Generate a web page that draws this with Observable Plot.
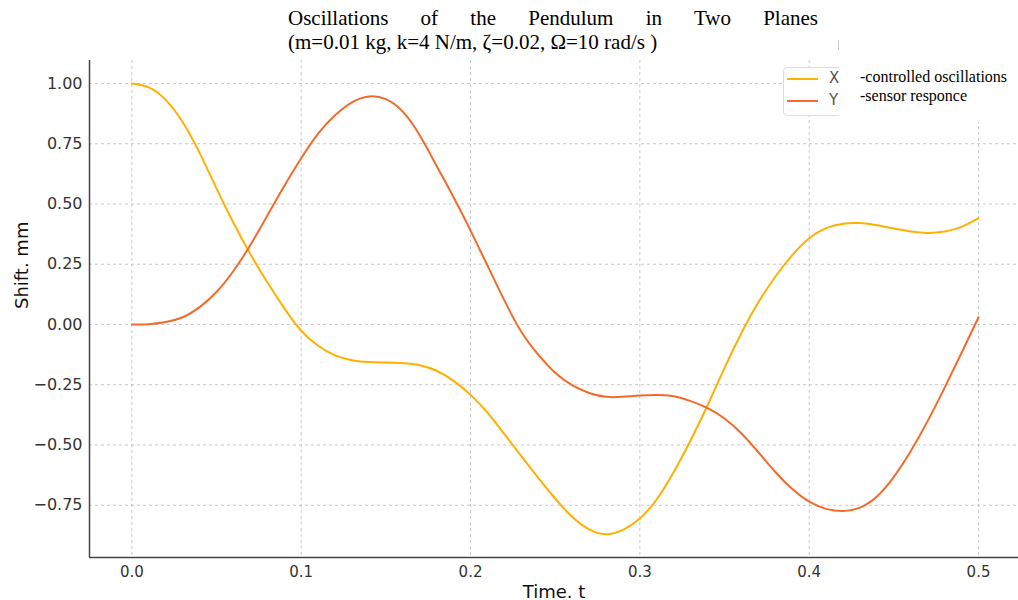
<!DOCTYPE html>
<html>
<head>
<meta charset="utf-8">
<script src="https://cdn.jsdelivr.net/npm/d3@7"></script>
<script src="https://cdn.jsdelivr.net/npm/@observablehq/plot@0.6"></script>
<style>
  html, body { margin: 0; padding: 0; background: #fff; }
  #wrap { position: relative; width: 1018px; height: 600px; overflow: hidden; }
  #chart { position: absolute; left: 0; top: 0; }
  .serif { font-family: "Liberation Serif", "Times New Roman", serif; color: #000; position: absolute; white-space: nowrap; }
  #t1 { left: 288px; top: 6px; width: 530px; font-size: 21px; text-align: justify; text-align-last: justify; }
  #t2 { left: 288px; top: 30px; font-size: 21px; }
  #legbox { position: absolute; left: 783px; top: 67px; width: 70px; height: 49px; border: 1px solid #ddd; border-radius: 4px; background: #fff; box-sizing: border-box; }
  #legcover { position: absolute; left: 839px; top: 60px; width: 179px; height: 62px; background: #fff; }
  .legsw { position: absolute; height: 2px; width: 31px; left: 787px; }
  .legk { position: absolute; font-family: "DejaVu Sans", sans-serif; font-size: 15px; color: #555; left: 829px; }
  #l1 { left: 860px; top: 68px; font-size: 16px; }
  #l2 { left: 860px; top: 87px; font-size: 16px; }
  #tick { position: absolute; left: 838px; top: 40px; width: 1px; height: 10px; background: #ccc; }
</style>
</head>
<body>
<div id="wrap">
  <div id="chart"></div>
  <div id="t1" class="serif">Oscillations of the Pendulum in Two Planes</div>
  <div id="t2" class="serif">(m=0.01 kg, k=4 N/m, ζ=0.02, Ω=10 rad/s )</div>
  <div id="tick"></div>
  <div id="legbox"></div>
  <div class="legsw" style="top:78px;background:#ffb000"></div>
  <div class="legsw" style="top:100px;background:#f26b2a"></div>
  <div class="legk" style="top:69px">X</div>
  <div class="legk" style="top:91px">Y</div>
  <div id="legcover"></div>
  <div id="l1" class="serif">-controlled oscillations</div>
  <div id="l2" class="serif">-sensor responce</div>
</div>
<script>
// Time samples
const time = [0.00,0.01,0.02,0.03,0.04,0.05,0.06,0.07,0.08,0.09,
              0.10,0.11,0.12,0.13,0.14,0.15,0.16,0.17,0.18,0.19,
              0.20,0.21,0.22,0.23,0.24,0.25,0.26,0.27,0.28,0.29,
              0.30,0.31,0.32,0.33,0.34,0.35,0.36,0.37,0.38,0.39,
              0.40,0.41,0.42,0.43,0.44,0.45,0.46,0.47,0.48,0.49,0.50];
// X - controlled oscillations
const xValues = [1.000,0.984,0.932,0.840,0.712,0.565,0.422,0.292,0.175,0.068,
                 -0.026,-0.088,-0.128,-0.148,-0.156,-0.158,-0.161,-0.169,-0.192,-0.234,
                 -0.292,-0.366,-0.455,-0.546,-0.636,-0.722,-0.798,-0.850,-0.870,-0.852,
                 -0.805,-0.725,-0.612,-0.480,-0.335,-0.180,-0.035,0.092,0.198,0.288,
                 0.358,0.400,0.418,0.421,0.412,0.398,0.386,0.380,0.386,0.405,0.441];
// Y - sensor responce
const yValues = [0.000,0.001,0.010,0.030,0.072,0.135,0.222,0.330,0.452,0.575,
                 0.690,0.792,0.868,0.922,0.946,0.935,0.883,0.785,0.658,0.528,
                 0.390,0.245,0.100,-0.030,-0.125,-0.200,-0.252,-0.284,-0.300,-0.300,
                 -0.295,-0.293,-0.298,-0.318,-0.347,-0.390,-0.452,-0.530,-0.612,-0.683,
                 -0.735,-0.765,-0.774,-0.760,-0.714,-0.632,-0.525,-0.400,-0.262,-0.117,0.030];
const xTicks = [0.0,0.1,0.2,0.3,0.4,0.5];
const yTicks = [-0.75,-0.50,-0.25,0.00,0.25,0.50,0.75,1.00];
const seriesColors = {X: "#ffb000", Y: "#f26b2a"};

const rows = [];
time.forEach((t,i) => rows.push({t, v: xValues[i], s: "X"}));
time.forEach((t,i) => rows.push({t, v: yValues[i], s: "Y"}));

const xDomain = [-0.025, 0.5236];
const yDomain = [-0.9668, 1.0954];
const fmt2 = d3.format(".2f");

const plot = Plot.plot({
  width: 1018,
  height: 600,
  marginTop: 60,
  marginBottom: 43,
  marginLeft: 89,
  marginRight: 0,
  style: {fontFamily: "DejaVu Sans, sans-serif", fontSize: "15px", color: "#333", background: "transparent"},
  x: {domain: xDomain},
  y: {domain: yDomain},
  marks: [
    Plot.gridX(xTicks, {stroke: "#bbb", strokeOpacity: 0.8, strokeDasharray: "3,3", strokeWidth: 1}),
    Plot.gridY(yTicks, {stroke: "#bbb", strokeOpacity: 0.8, strokeDasharray: "3,3", strokeWidth: 1}),
    Plot.line(rows.filter(d => d.s === "X"), {x: "t", y: "v", stroke: seriesColors.X, strokeWidth: 2, curve: "natural"}),
    Plot.line(rows.filter(d => d.s === "Y"), {x: "t", y: "v", stroke: seriesColors.Y, strokeWidth: 2, curve: "natural"}),
    Plot.axisX(xTicks, {tickSize: 0, tickPadding: 9, tickFormat: d3.format(".1f"), label: null, fill: "#333", fontSize: 15}),
    Plot.axisY(yTicks, {tickSize: 0, tickPadding: 7, tickFormat: d => fmt2(d).replace("-", "\u2212"), label: null, fill: "#333", fontSize: 16}),
    Plot.ruleX([xDomain[0]], {stroke: "#444", strokeWidth: 1.5}),
    Plot.ruleY([yDomain[0]], {stroke: "#444", strokeWidth: 1.5}),
    Plot.text(["Shift. mm"], {frameAnchor: "left", rotate: -90, dx: -67, fontSize: 18, fill: "#111"}),
    Plot.text(["Time. t"], {frameAnchor: "bottom", dy: 40, fontSize: 18, fill: "#111"})
  ]
});
document.getElementById("chart").appendChild(plot);
</script>
</body>
</html>
